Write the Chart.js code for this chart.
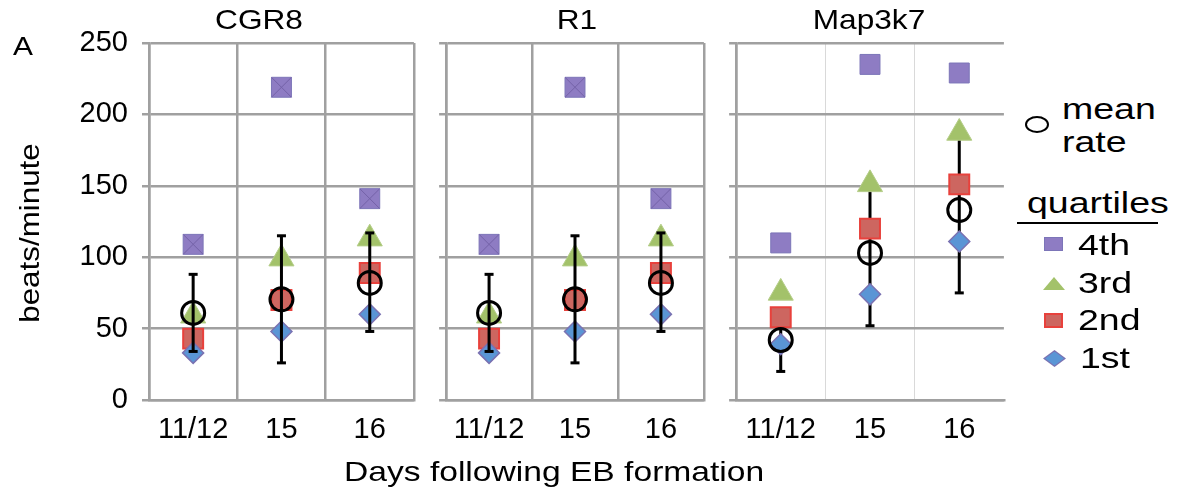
<!DOCTYPE html>
<html>
<head>
<meta charset="utf-8">
<title>beats per minute</title>
<script src="https://cdn.jsdelivr.net/npm/chart.js@4.4.1/dist/chart.umd.min.js"></script>
<style>
  body { margin: 0; background: #fff; }
  #wrap { position: relative; width: 1191px; height: 492px; overflow: hidden;
          font-family: "Liberation Sans", Arial, sans-serif; color: #000; }
  canvas { position: absolute; top: 0; }
  .txt { position: absolute; line-height: 1; white-space: nowrap; transform-origin: 0 0; }
  .ttl { font-size: 28px; top: 6.3px; transform-origin: 50% 0; transform: translateX(-50%) scaleX(1.13); }
  .leg { font-size: 30px; transform: scaleX(1.25); }
  .mk { position: absolute; box-sizing: border-box; }
</style>
</head>
<body>
<div id="wrap">
  <canvas id="cgr8" width="430" height="492" style="left:0px"></canvas>
  <canvas id="r1" width="290" height="492" style="left:430px"></canvas>
  <canvas id="map3k7" width="300" height="492" style="left:720px"></canvas>

  <div class="txt ttl" style="left:259px">CGR8</div>
  <div class="txt ttl" style="left:577px">R1</div>
  <div class="txt ttl" style="left:869px">Map3k7</div>

  <div class="txt" style="left:13px; top:33px; font-size:26px; transform:scaleX(1.15)">A</div>
  <div class="txt" style="left:30px; top:233px; font-size:28px; transform-origin:50% 50%;
       transform:translate(-50%,-50%) rotate(-90deg) scaleX(1.12)">beats/minute</div>
  <div class="txt" style="left:344px; top:458px; font-size:28px; transform:scaleX(1.2)">Days following EB formation</div>

  <!-- legend -->
  <div class="mk" style="left:1025px; top:116px; width:24px; height:17px; border:2.5px solid #000; border-radius:50%"></div>
  <div class="txt leg" style="left:1062px; top:93.6px">mean</div>
  <div class="txt leg" style="left:1062px; top:126.6px">rate</div>
  <div class="txt leg" style="left:1027px; top:187.6px">quartiles</div>
  <div class="mk" style="left:1017px; top:222px; width:141px; height:2px; background:#000"></div>

  <div class="mk" style="left:1044px; top:237px; width:19px; height:14px; background:#8e7cc3; border:1px solid #7c75b8"></div>
  <div class="txt leg" style="left:1078px; top:229.6px">4th</div>
  <div class="mk" style="left:1043px; top:277px; width:22px; height:13px; background:#a3c26a;
       clip-path:polygon(50% 0, 100% 100%, 0 100%)"></div>
  <div class="txt leg" style="left:1078px; top:267.6px">3rd</div>
  <div class="mk" style="left:1044px; top:313px; width:19px; height:15px; background:#cd6660; border:2px solid #e8413c"></div>
  <div class="txt leg" style="left:1078px; top:304.6px">2nd</div>
  <div class="mk" style="left:1043px; top:350px; width:23px; height:17px; background:#7a72b2;
       clip-path:polygon(50% 0, 100% 50%, 50% 100%, 0 50%)">
    <div class="mk" style="left:2px; top:1.5px; width:19px; height:14px; background:#5a95d5;
         clip-path:polygon(50% 0, 100% 50%, 50% 100%, 0 50%)"></div>
  </div>
  <div class="txt leg" style="left:1080px; top:342.6px">1st</div>
</div>

<script>
const days = ['11/12', '15', '16'];

// CGR8 (beats/minute)
const cgr8Q1 = [33, 48, 60];
const cgr8Q2 = [43, 70, 89];
const cgr8Q3 = [59, 99, 113];
const cgr8Q4 = [109, 219, 141];
const cgr8Mean = [61, 70.5, 82];
const cgr8Low = [34, 26, 48];
const cgr8High = [88, 115, 117];

// R1
const r1Q1 = [33, 48, 60];
const r1Q2 = [43, 70, 89];
const r1Q3 = [59, 99, 113];
const r1Q4 = [109, 219, 141];
const r1Mean = [61, 70.5, 82];
const r1Low = [34, 26, 48];
const r1High = [88, 115, 117];

// Map3k7
const mapQ1 = [39, 74, 111];
const mapQ2 = [58, 120, 151];
const mapQ3 = [75, 151, 187];
const mapQ4 = [110, 235, 229];
const mapMean = [42, 103, 133];
const mapLow = [20, 52, 75];
const mapHigh = [63, 153, 190];

const FONT = "'Liberation Sans', Arial, sans-serif";
const GRID = '#a0a0a0';

let errorBarData = function(low, high) {
  let pts = [];
  days.forEach((d, i) => {
    pts.push({x: d, y: low[i]}, {x: d, y: high[i]}, {x: d, y: null});
  });
  return pts;
}

let markerSet = function(label, data, style, radius, fill, edge, edgeWidth, order) {
  return {
    label: label,
    data: data,
    order: order,
    showLine: false,
    pointStyle: style,
    pointRadius: radius,
    pointHoverRadius: radius,
    pointBackgroundColor: fill,
    pointBorderColor: edge,
    pointBorderWidth: edgeWidth,
    backgroundColor: fill,
    borderColor: edge,
    clip: false
  };
}

let drawPanel = function(id, q1, q2, q3, q4, mean, low, high, opts) {
  const datasets = [
    markerSet('mean rate', mean, 'circle', 11.5, 'rgba(0,0,0,0)', '#000', 3, 0),
    {
      label: 'error',
      data: errorBarData(low, high),
      order: opts.barsOnTop ? 1 : 6,
      borderColor: '#000',
      borderWidth: 3,
      spanGaps: false,
      pointStyle: 'line',
      pointRadius: 4.5,
      pointHoverRadius: 4.5,
      pointBorderColor: '#000',
      pointBorderWidth: 3,
      clip: false
    },
    markerSet('1st', q1, 'rectRot', 10.5, '#5a95d5', '#7a72b2', 1.5, 2),
    markerSet('2nd', q2, 'rect', 14.1, '#cd6660', '#e8413c', 2, 3),
    markerSet('3rd', q3, 'triangle', 14.5, '#a3c26a', '#b4cd88', 1, 4),
    markerSet('4th', q4, 'rect', 14.1, '#8e7cc3', '#7c75b8', 1, 5)
  ];
  if (opts.crossed) {
    datasets.push(markerSet('4th x', q4, 'crossRot', 14.1, 'rgba(0,0,0,0)', '#7462a8', 1, 4.5));
  }

  const config = {
    type: 'line',
    data: { labels: days, datasets: datasets },
    options: {
      responsive: false,
      animation: false,
      events: [],
      layout: { padding: { left: opts.padLeft, right: opts.padRight, top: 43, bottom: 0 } },
      plugins: {
        legend: { display: false },
        tooltip: { enabled: false }
      },
      scales: {
        x: {
          type: 'category',
          offset: true,
          afterFit: (s) => { s.height = 92; },
          grid: { offset: true, drawTicks: false, color: opts.xGridColor, lineWidth: opts.xGridWidth },
          border: { display: true, color: GRID, width: 2.5 },
          ticks: { color: '#000', font: { family: FONT, size: 29 }, padding: 13, maxRotation: 0, autoSkip: false }
        },
        y: {
          min: 0,
          max: 250,
          afterFit: (s) => { s.width = opts.yWidth; },
          ticks: { display: opts.yLabels, stepSize: 50, color: '#000', font: { family: FONT, size: 29 }, padding: 14 },
          grid: { color: GRID, lineWidth: 2.5, tickLength: 7, drawTicks: true },
          border: { display: true, color: GRID, width: 2.5 }
        }
      }
    }
  };

  new Chart(document.getElementById(id), config);
}

drawPanel('cgr8', cgr8Q1, cgr8Q2, cgr8Q3, cgr8Q4, cgr8Mean, cgr8Low, cgr8High, {
  barsOnTop: true, crossed: true, padLeft: 0, padRight: 10, yWidth: 149, yLabels: true,
  xGridColor: GRID, xGridWidth: 2.5
});

drawPanel('r1', r1Q1, r1Q2, r1Q3, r1Q4, r1Mean, r1Low, r1High, {
  barsOnTop: true, crossed: true, padLeft: 11, padRight: 7, yWidth: 1, yLabels: false,
  xGridColor: GRID, xGridWidth: 2.5
});

// Map3k7: faint inner lines, no right frame
drawPanel('map3k7', mapQ1, mapQ2, mapQ3, mapQ4, mapMean, mapLow, mapHigh, {
  barsOnTop: false, crossed: false, padLeft: 12, padRight: 15, yWidth: 1, yLabels: false,
  xGridColor: (c) => c.index === undefined ? 'rgba(0,0,0,0)' : (c.index === 0 ? GRID : '#d9d9d9'),
  xGridWidth: (c) => (c.index === 1 || c.index === 2) ? 1 : 2.5
});
</script>
</body>
</html>
